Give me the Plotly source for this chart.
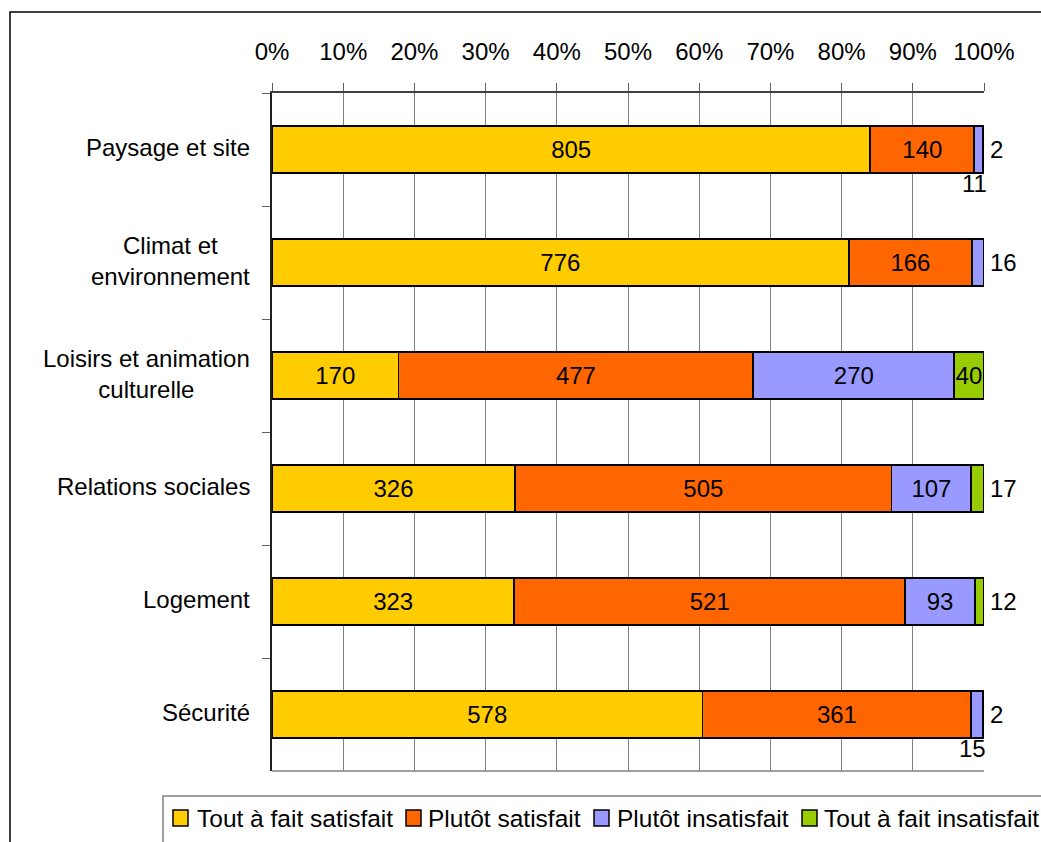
import numpy as np
import plotly.graph_objects as go

# Survey answers per theme (counts of respondents)
categories = ["Paysage et site", "Climat et<br>environnement", "Loisirs et animation<br>culturelle",
              "Relations sociales", "Logement", "Sécurité"]
series_names = ["Tout à fait satisfait", "Plutôt satisfait", "Plutôt insatisfait", "Tout à fait insatisfait"]
tout_satisfait = [805, 776, 170, 326, 323, 578]
plutot_satisfait = [140, 166, 477, 505, 521, 361]
plutot_insatisfait = [11, 16, 270, 107, 93, 15]
tout_insatisfait = [2, 0, 40, 17, 12, 2]
tick_values = list(range(0, 101, 10))
tick_labels = [f"{v}%" for v in tick_values]

series = [tout_satisfait, plutot_satisfait, plutot_insatisfait, tout_insatisfait]
colors = ["#FFCC00", "#FF6600", "#9999FF", "#99CC00"]

FONT = "Liberation Sans, Arial, sans-serif"
FS = 24
W, H = 1041, 842
ML, MR, MT, MB = 272, 57, 93, 71
PW, PH = W - ML - MR, H - MT - MB


def px_x(p):
    return (p - ML) / PW


def px_y(p):
    return (H - MB - p) / PH


counts = np.array(series, dtype=float)          # shape (series, categories)
shares = counts / counts.sum(axis=0) * 100.0    # percent of each row
cum_end = np.cumsum(shares, axis=0)
cum_start = cum_end - shares
SMALL = 3.0  # segments narrower than this (in %) get their label outside

fig = go.Figure()
for name, vals, col, sh in zip(series_names, series, colors, shares):
    txt = [str(v) if s >= SMALL else "" for v, s in zip(vals, sh)]
    fig.add_trace(go.Bar(
        y=categories, x=vals, name=name, orientation="h",
        marker=dict(color=col, line=dict(color="black", width=1.8)),
        text=txt, textposition="inside", insidetextanchor="middle",
        textangle=0, constraintext="none",
        textfont=dict(family=FONT, size=FS, color="black"),
        showlegend=False, hoverinfo="skip",
    ))

annotations = []

# Category labels (lines centred, block right-aligned to the axis)
for cat in categories:
    annotations.append(dict(
        x=0, xref="paper", y=cat, yref="y", xanchor="right", yanchor="middle",
        xshift=-20, yshift=2, align="center", text=cat, showarrow=False,
        font=dict(family=FONT, size=FS, color="black"),
    ))

# Labels for narrow segments: the last one to the right of the bar, others below it
for j, cat in enumerate(categories):
    small = [i for i in range(len(series)) if 0 < shares[i, j] < SMALL]
    for k, i in enumerate(small):
        if k == len(small) - 1:
            annotations.append(dict(
                x=100, xref="x", y=cat, yref="y", xanchor="left", yanchor="middle",
                xshift=4, text=str(series[i][j]), showarrow=False,
                font=dict(family=FONT, size=FS, color="black"),
            ))
        else:
            annotations.append(dict(
                x=(cum_start[i, j] + cum_end[i, j]) / 2, xref="x", y=cat, yref="y",
                xanchor="center", yanchor="middle", yshift=-34, xshift=-4,
                text=str(series[i][j]), showarrow=False,
                font=dict(family=FONT, size=FS, color="black"),
            ))

shapes = []
# Outer chart frame
shapes.append(dict(type="rect", xref="paper", yref="paper",
                   x0=px_x(10), x1=px_x(1200), y0=px_y(1000), y1=px_y(12),
                   line=dict(color="black", width=1.5), fillcolor="rgba(0,0,0,0)", layer="below"))
# Bottom border of the plot area
shapes.append(dict(type="line", xref="paper", yref="paper", x0=0, x1=1, y0=0, y1=0,
                   line=dict(color="#808080", width=1.5)))
# Legend box
shapes.append(dict(type="rect", xref="paper", yref="paper",
                   x0=px_x(163), x1=px_x(1200), y0=px_y(1000), y1=px_y(796),
                   line=dict(color="#808080", width=1.5), fillcolor="white"))

# Legend entries
legend_sq_x = [173, 406, 594, 802]
legend_txt_x = [195, 426, 615, 822]
for name, col, sx, tx in zip(series_names, colors, legend_sq_x, legend_txt_x):
    shapes.append(dict(type="rect", xref="paper", yref="paper",
                       x0=px_x(sx), x1=px_x(sx + 15), y0=px_y(826), y1=px_y(810),
                       line=dict(color="black", width=1.5), fillcolor=col))
    annotations.append(dict(
        x=px_x(tx), xref="paper", y=px_y(818), yref="paper", xanchor="left", yanchor="middle",
        text=name, showarrow=False, font=dict(family=FONT, size=24.5, color="black"),
    ))

fig.update_layout(
    barmode="stack", barnorm="percent", bargap=0.59,
    width=W, height=H, margin=dict(l=ML, r=MR, t=MT, b=MB, pad=0),
    paper_bgcolor="white", plot_bgcolor="white",
    font=dict(family=FONT, size=FS, color="black"),
    xaxis=dict(
        side="top", range=[0, 100], tickvals=tick_values, ticktext=tick_labels,
        showgrid=True, gridcolor="#808080", gridwidth=1,
        showline=True, linecolor="#404040", linewidth=1.5,
        ticks="outside", ticklen=8, tickcolor="#606060", tickwidth=1,
        ticklabelstandoff=14, zeroline=False,
        tickfont=dict(family=FONT, size=FS, color="black"),
    ),
    yaxis=dict(
        autorange="reversed", showticklabels=False, showgrid=False,
        showline=True, linecolor="#202020", linewidth=1.5,
        ticks="outside", ticklen=8, tickcolor="#606060", tickson="boundaries",
        zeroline=False,
    ),
    annotations=annotations, shapes=shapes,
)

fig.write_html("out.html")
